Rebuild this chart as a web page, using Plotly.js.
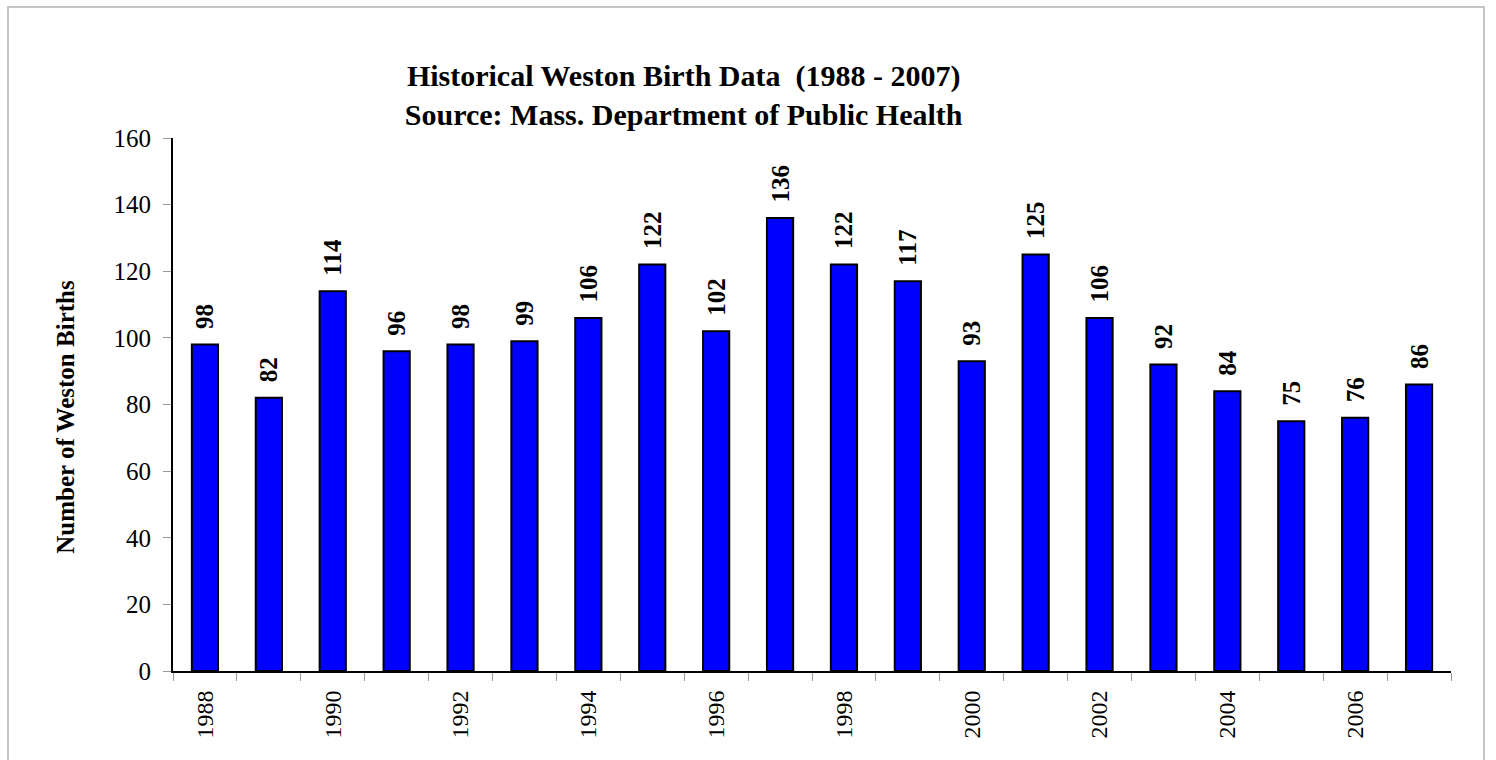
<!DOCTYPE html>
<html>
<head>
<meta charset="utf-8">
<script src="https://cdn.plot.ly/plotly-3.0.1.min.js"></script>
<style>
html,body{margin:0;padding:0;background:#fff;}
#frame{position:absolute;left:7px;top:6px;width:1478px;height:800px;border:2px solid #c4c4c4;box-sizing:border-box;}
#chart{position:absolute;left:0;top:0;width:1496px;height:760px;}
</style>
</head>
<body>
<div id="frame"></div>
<div id="chart"></div>
<script>
const years = ["1988","1989","1990","1991","1992","1993","1994","1995","1996","1997","1998","1999","2000","2001","2002","2003","2004","2005","2006","2007"];
const births = [98,82,114,96,98,99,106,122,102,136,122,117,93,125,106,92,84,75,76,86];
const tickLabels = years.map(y => (parseInt(y) % 2 === 0 ? y : ""));

const serif = "Liberation Serif, Times New Roman, serif";
const nb = "\u00a0";

const trace = {
  type: "bar",
  x: years,
  y: births,
  marker: {color: "#0000FF", line: {color: "#000000", width: 2}},
  text: births.map(String),
  texttemplate: nb + nb + "%{text}",
  textposition: "outside",
  textangle: -90,
  constraintext: "none",
  cliponaxis: false,
  textfont: {family: serif, size: 25, color: "#000", weight: "bold"},
  hoverinfo: "x+y"
};

const layout = {
  width: 1496, height: 760,
  paper_bgcolor: "rgba(0,0,0,0)",
  plot_bgcolor: "rgba(0,0,0,0)",
  margin: {l: 173, r: 45, t: 138, b: 89},
  bargap: 0.59,
  showlegend: false,
  font: {family: serif, color: "#000"},
  title: {
    text: "<b>Historical Weston Birth Data  (1988 - 2007)<br>Source: Mass. Department of Public Health</b>",
    font: {family: serif, size: 30, color: "#000"},
    x: 0.457, xref: "container", xanchor: "center",
    y: 0.887, yref: "container", yanchor: "middle"
  },
  xaxis: {
    type: "category",
    tickvals: years,
    ticktext: tickLabels,
    tickangle: -90,
    tickson: "boundaries",
    ticks: "outside", ticklen: 8, tickwidth: 1, tickcolor: "#999",
    showline: true, linecolor: "#000", linewidth: 2,
    showgrid: false, zeroline: false,
    tickfont: {family: serif, size: 24, color: "#000"},
    ticklabelstandoff: 8
  },
  yaxis: {
    range: [0, 160],
    dtick: 20,
    ticks: "outside", ticklen: 8, tickwidth: 1, tickcolor: "#999",
    showline: true, linecolor: "#000", linewidth: 2,
    showgrid: false, zeroline: false,
    tickfont: {family: serif, size: 25, color: "#000"},
    ticklabelstandoff: 7,
    title: {text: "<b>Number of Weston Births" + nb + nb + nb + nb + "</b>", font: {family: serif, size: 25, color: "#000"}, standoff: 32}
  }
};

Plotly.newPlot("chart", [trace], layout, {displayModeBar: false, staticPlot: true});
</script>
</body>
</html>
